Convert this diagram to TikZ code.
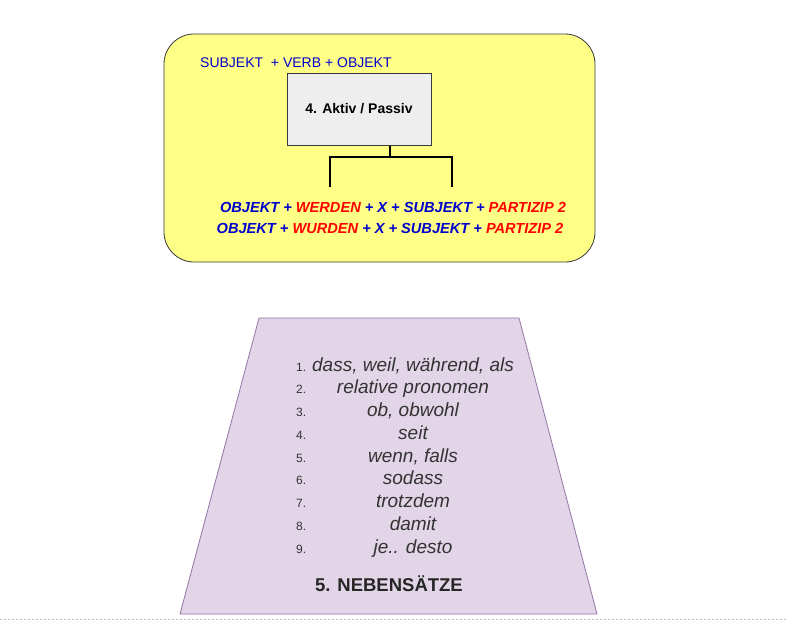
\documentclass[tikz,border=0pt]{standalone}
\usepackage{fontspec}
\setmainfont{Liberation Sans}
\definecolor{yel}{HTML}{FFFF88}
\definecolor{edge}{HTML}{36393D}
\definecolor{boxg}{HTML}{EEEEEE}
\definecolor{lav}{HTML}{E1D5E7}
\definecolor{lavedge}{HTML}{9673A6}
\definecolor{bl}{HTML}{0000CC}
\definecolor{rd}{HTML}{FF0000}
\definecolor{txt}{HTML}{333333}
\begin{document}
\begin{tikzpicture}[x=1pt,y=-1pt,
  formula/.style={font=\fontsize{14.6}{16}\selectfont\bfseries\itshape, anchor=center, inner sep=0pt},
  num/.style={font=\fontsize{12}{14}\selectfont, text=txt, anchor=base west, inner sep=0pt},
  item/.style={font=\fontsize{19}{22}\selectfont\itshape, text=txt, anchor=base, inner sep=0pt},
  conn/.style={line width=2pt, black}]
\useasboundingbox (0,0) rectangle (786,622);
% yellow container
\draw[fill=yel, draw=edge, line width=0.8pt, rounded corners=30pt] (164,34) rectangle (595,262);
\node[font=\fontsize{14}{16}\selectfont, text=bl, anchor=base west, inner sep=0pt] (svo) at (200,67) {SUBJEKT\ \ + VERB + OBJEKT};
\node[draw=edge, fill=boxg, line width=1pt, minimum width=144pt, minimum height=72pt, font=\fontsize{14}{16}\selectfont\bfseries] (ap) at (359,109) {4. Aktiv / Passiv};
\coordinate (jn) at (390,157);
\coordinate (lb) at (330,187);
\coordinate (rb) at (452,187);
\draw[conn] (ap.south -| jn) -- (jn);
\draw[conn] (lb) |- (jn) -| (rb);
\node[formula] (f1) at (393,207) {\textcolor{bl}{OBJEKT +} \textcolor{rd}{WERDEN} \textcolor{bl}{+ X + SUBJEKT +} \textcolor{rd}{PARTIZIP 2}};
\node[formula] (f2) at (390,228) {\textcolor{bl}{OBJEKT +} \textcolor{rd}{WURDEN} \textcolor{bl}{+ X + SUBJEKT +} \textcolor{rd}{PARTIZIP 2}};
% trapezoid
\draw[fill=lav, draw=lavedge, line width=0.8pt] (259,318) -- (519,318) -- (597,614) -- (180,614) -- cycle;
\foreach \n/\t [count=\i] in {1/{dass, weil, während, als},2/{relative pronomen},3/{ob, obwohl},4/{seit},5/{wenn, falls},6/{sodass},7/{trotzdem},8/{damit},9/{je.. desto}}{
  \pgfmathsetmacro{\yy}{371+(\i-1)*22.75}
  \node[num] (n\i) at (296,\yy) {\n.};
  \node[item] (it\i) at (413,\yy) {\t};
}
\node[font=\fontsize{18.5}{22}\selectfont\bfseries, text=black!85, inner sep=0pt] (title) at (389,584) {5. NEBENSÄTZE};
% dashed bottom line
\coordinate (dl) at (0,619);
\coordinate (dr) at (786,619);
\draw[black!25, dash pattern=on 2pt off 2pt, line width=0.6pt] (dl) -- (dr);
\end{tikzpicture}
\end{document}
